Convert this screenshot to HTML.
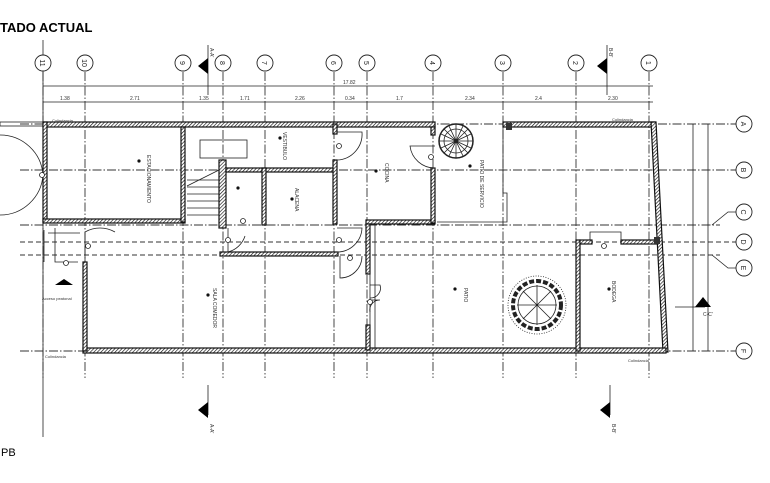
<!DOCTYPE html>
<html><head><meta charset="utf-8"><style>
html,body{margin:0;padding:0;background:#fff;width:770px;height:483px;overflow:hidden}
svg{display:block}
.g{stroke:#333;stroke-width:0.9;stroke-dasharray:9 2 1.5 2;fill:none}
.w{fill:url(#h);stroke:#111;stroke-width:1.2}
.t{font-family:"Liberation Sans",sans-serif;font-size:5px;fill:#333}
.c{fill:#fff;stroke:#222;stroke-width:0.9}
.l{stroke:#222;stroke-width:0.8;fill:none}
</style></head><body>
<svg width="770" height="483" viewBox="0 0 770 483" xmlns="http://www.w3.org/2000/svg">
<defs>
<pattern id="h" width="2.5" height="2.5" patternUnits="userSpaceOnUse" patternTransform="rotate(45)">
<rect width="2.5" height="2.5" fill="#fff"/><line x1="0" y1="0" x2="0" y2="2.5" stroke="#111" stroke-width="1.3"/>
</pattern>
</defs>
<text x="0" y="32" font-family="Liberation Sans,sans-serif" font-weight="bold" font-size="13">TADO ACTUAL</text>
<text x="1" y="456" font-family="Liberation Sans,sans-serif" font-size="11">PB</text>

<g class="g">
<line x1="43" y1="72" x2="43" y2="378"/><line x1="85" y1="72" x2="85" y2="378"/>
<line x1="183" y1="72" x2="183" y2="378"/><line x1="223" y1="72" x2="223" y2="378"/>
<line x1="265" y1="72" x2="265" y2="378"/><line x1="334" y1="72" x2="334" y2="378"/>
<line x1="367" y1="72" x2="367" y2="378"/><line x1="433" y1="72" x2="433" y2="378"/>
<line x1="503" y1="72" x2="503" y2="378"/><line x1="576" y1="72" x2="576" y2="378"/>
<line x1="649" y1="72" x2="649" y2="378"/>
</g>
<g class="g">
<line x1="20" y1="124" x2="736" y2="124"/><line x1="20" y1="170" x2="736" y2="170"/>
<line x1="20" y1="225" x2="720" y2="225"/><line x1="20" y1="242" x2="736" y2="242" stroke-dasharray="5 3"/>
<line x1="20" y1="255" x2="720" y2="255" stroke-dasharray="5 3"/><line x1="20" y1="351" x2="736" y2="351"/>
</g>
<line class="l" x1="43" y1="40" x2="43" y2="437"/>
<line class="l" x1="43" y1="86" x2="653" y2="86"/>
<line class="l" x1="43" y1="102" x2="653" y2="102"/>
<line class="l" x1="693" y1="124" x2="693" y2="351"/>
<line class="l" x1="708" y1="124" x2="708" y2="351"/>
<g class="t">
<text x="60" y="100">1.38</text><text x="130" y="100">2.71</text><text x="199" y="100">1.35</text>
<text x="240" y="100">1.71</text><text x="295" y="100">2.26</text><text x="343" y="84">17.82</text>
<text x="345" y="100">0.34</text><text x="396" y="100">1.7</text><text x="465" y="100">2.34</text>
<text x="535" y="100">2.4</text><text x="608" y="100">2.30</text>
</g>
<g class="c">
<circle cx="43" cy="63" r="8"/><circle cx="85" cy="63" r="8"/><circle cx="183" cy="63" r="8"/>
<circle cx="223" cy="63" r="8"/><circle cx="265" cy="63" r="8"/><circle cx="334" cy="63" r="8"/>
<circle cx="367" cy="63" r="8"/><circle cx="433" cy="63" r="8"/><circle cx="503" cy="63" r="8"/>
<circle cx="576" cy="63" r="8"/><circle cx="649" cy="63" r="8"/>
<circle cx="744" cy="124" r="8"/><circle cx="744" cy="170" r="8"/><circle cx="744" cy="212" r="8"/>
<circle cx="744" cy="242" r="8"/><circle cx="744" cy="268" r="8"/><circle cx="744" cy="351" r="8"/>
</g>
<g font-family="Liberation Sans,sans-serif" font-size="7" fill="#222" text-anchor="middle">
<text x="43" y="66" transform="rotate(90 43 63)">11</text><text x="85" y="66" transform="rotate(90 85 63)">10</text>
<text x="183" y="66" transform="rotate(90 183 63)">9</text><text x="223" y="66" transform="rotate(90 223 63)">8</text>
<text x="265" y="66" transform="rotate(90 265 63)">7</text><text x="334" y="66" transform="rotate(90 334 63)">6</text>
<text x="367" y="66" transform="rotate(90 367 63)">5</text><text x="433" y="66" transform="rotate(90 433 63)">4</text>
<text x="503" y="66" transform="rotate(90 503 63)">3</text><text x="576" y="66" transform="rotate(90 576 63)">2</text>
<text x="649" y="66" transform="rotate(90 649 63)">1</text>
<text x="744" y="127" transform="rotate(90 744 124)">A</text><text x="744" y="173" transform="rotate(90 744 170)">B</text>
<text x="744" y="215" transform="rotate(90 744 212)">C</text><text x="744" y="245" transform="rotate(90 744 242)">D</text>
<text x="744" y="271" transform="rotate(90 744 268)">E</text><text x="744" y="354" transform="rotate(90 744 351)">F</text>
</g>
<polyline class="l" points="712,225 728,212 736,212"/>
<polyline class="l" points="712,255 728,268 736,268"/>
<line class="l" x1="208" y1="45" x2="208" y2="95"/><polygon points="198,66 208,58 208,74"/>
<text x="204" y="46" class="t" transform="rotate(90 206 50)">A-A'</text>
<line class="l" x1="208" y1="385" x2="208" y2="415"/><polygon points="198,410 208,402 208,418"/>
<text x="206" y="420" class="t" transform="rotate(90 206 424)">A-A'</text>
<line class="l" x1="607" y1="45" x2="607" y2="95"/><polygon points="597,66 607,58 607,74"/>
<text x="603" y="46" class="t" transform="rotate(90 605 50)">B-B'</text>
<line class="l" x1="610" y1="385" x2="610" y2="415"/><polygon points="600,410 610,402 610,418"/>
<text x="608" y="420" class="t" transform="rotate(90 608 424)">B-B'</text>
<line class="l" x1="675" y1="307" x2="705" y2="307"/><polygon points="695,307 703,297 711,307"/>
<text x="703" y="316" class="t">C-C'</text>

<rect class="w" x="43" y="122" width="392" height="5"/>
<rect class="w" x="503" y="122" width="152" height="5"/>
<polygon class="w" points="651,122 656,122 668,352 663,352"/>
<rect class="w" x="83" y="348" width="583" height="5"/>
<rect class="w" x="43" y="122" width="4" height="100"/>
<rect class="w" x="43" y="219" width="142" height="4"/>
<rect class="w" x="181" y="127" width="4" height="95"/>
<rect class="w" x="219" y="160" width="7" height="68"/>
<rect class="w" x="226" y="168" width="110" height="4"/>
<rect class="w" x="262" y="168" width="4" height="57"/>
<rect class="w" x="333" y="124" width="4" height="10"/>
<rect class="w" x="333" y="160" width="4" height="64"/>
<rect class="w" x="220" y="252" width="118" height="4"/>
<rect class="w" x="83" y="262" width="4" height="89"/>
<rect class="w" x="366" y="220" width="69" height="4"/>
<rect class="w" x="366" y="224" width="4" height="50"/>
<rect class="w" x="366" y="325" width="4" height="25"/>
<rect class="w" x="431" y="127" width="4" height="8"/>
<rect class="w" x="431" y="168" width="4" height="55"/>
<rect class="w" x="576" y="240" width="4" height="111"/>
<rect class="w" x="580" y="240" width="12" height="4"/>
<rect class="w" x="621" y="240" width="37" height="4"/>
<rect x="506" y="123" width="6" height="7" fill="#333"/>
<rect x="654" y="237" width="6" height="7" fill="#333"/>
<polyline class="l" points="437,222 507,222 507,193 503,193 503,127"/>
<polyline class="l" points="590,240 590,232 621,232 621,240"/>
<line class="l" x1="370" y1="224" x2="370" y2="350"/><line class="l" x1="375" y1="224" x2="375" y2="350"/>
<g class="l">
<rect x="200" y="140" width="47" height="18"/>
<line x1="187" y1="180" x2="219" y2="180"/><line x1="187" y1="187" x2="219" y2="187"/><line x1="187" y1="194" x2="219" y2="194"/>
<line x1="187" y1="201" x2="219" y2="201"/><line x1="187" y1="208" x2="219" y2="208"/><line x1="187" y1="215" x2="219" y2="215"/>
<line x1="187" y1="186" x2="219" y2="170"/>
</g>
<g class="l">
<path d="M0 135 A43 43 0 0 1 43 175"/><path d="M0 215 A43 43 0 0 0 43 175"/>
<rect x="0" y="122" width="43" height="4"/>
<path d="M85 232 L85 262 M85 232 A30 30 0 0 1 115 232"/>
<path d="M337 132 L362 132 A26 26 0 0 1 337 160"/>
<path d="M228 228 L228 252 A24 24 0 0 0 245 236"/>
<path d="M337 228 L362 228 A25 25 0 0 1 337 252"/>
<path d="M340 256 L340 278 A22 22 0 0 0 362 256"/>
<path d="M435 146 L410 146 A25 25 0 0 0 435 168"/>
<path d="M370 285 L380 285 A10 10 0 0 1 370 298 M370 300 L380 300 A10 10 0 0 0 370 312"/>
<path d="M48 233 L80 233 M55 228 L55 262 L78 262 M44 230 L44 262"/>
</g>
<g fill="#fff" stroke="#222" stroke-width="0.8">
<circle cx="42" cy="175" r="2.5"/><circle cx="88" cy="246" r="2.5"/><circle cx="339" cy="146" r="2.5"/>
<circle cx="228" cy="240" r="2.5"/><circle cx="339" cy="240" r="2.5"/><circle cx="350" cy="258" r="2.5"/>
<circle cx="431" cy="157" r="2.5"/><circle cx="604" cy="246" r="2.5"/><circle cx="243" cy="221" r="2.5"/>
<circle cx="370" cy="302" r="2.5"/><circle cx="66" cy="263" r="2.5"/>
</g>
<polygon points="55,285 64,279 73,285"/>
<g class="l">
<circle cx="456" cy="141" r="17" stroke-width="1.5"/><circle cx="456" cy="141" r="12"/>
<path d="M439 141 H473 M456 124 V158 M444 129 L468 153 M468 129 L444 153 M441 134 L471 148 M441 148 L471 134 M449 126 L463 156 M463 126 L449 156"/>
</g>
<g class="l">
<circle cx="537" cy="305" r="29" stroke-dasharray="1 1.5"/>
<circle cx="537" cy="305" r="19"/>
<path d="M517 305 H557 M537 285 V325 M523 291 L551 319 M551 291 L523 319"/>
<circle cx="537" cy="305" r="24" stroke-width="4" stroke-dasharray="5 2"/>
</g>
<g class="t" font-size="4.5">
<text x="147" y="155" transform="rotate(90 147 155)">ESTACIONAMIENTO</text>
<text x="283" y="132" transform="rotate(90 283 132)">VESTIBULO</text>
<text x="295" y="188" transform="rotate(90 295 188)">ALACENA</text>
<text x="213" y="288" transform="rotate(90 213 288)">SALA COMEDOR</text>
<text x="385" y="163" transform="rotate(90 385 163)">COCINA</text>
<text x="480" y="160" transform="rotate(90 480 160)">PATIO DE SERVICIO</text>
<text x="464" y="288" transform="rotate(90 464 288)">PATIO</text>
<text x="612" y="281" transform="rotate(90 612 281)">BODEGA</text>
<text x="42" y="300" font-size="4">Acceso peatonal</text>
<text x="52" y="122" font-size="4">Colindancia</text>
<text x="612" y="121" font-size="4">Colindancia</text>
<text x="45" y="358" font-size="4">Colindancia</text>
<text x="628" y="362" font-size="4">Colindancia</text>
</g>
<g fill="#111">
<circle cx="139" cy="161" r="1.6"/><circle cx="280" cy="138" r="1.6"/><circle cx="292" cy="199" r="1.6"/>
<circle cx="208" cy="295" r="1.6"/><circle cx="376" cy="171" r="1.6"/><circle cx="470" cy="166" r="1.6"/>
<circle cx="455" cy="289" r="1.6"/><circle cx="609" cy="289" r="1.6"/><circle cx="238" cy="188" r="1.6"/>
</g>
</svg>
</body></html>
